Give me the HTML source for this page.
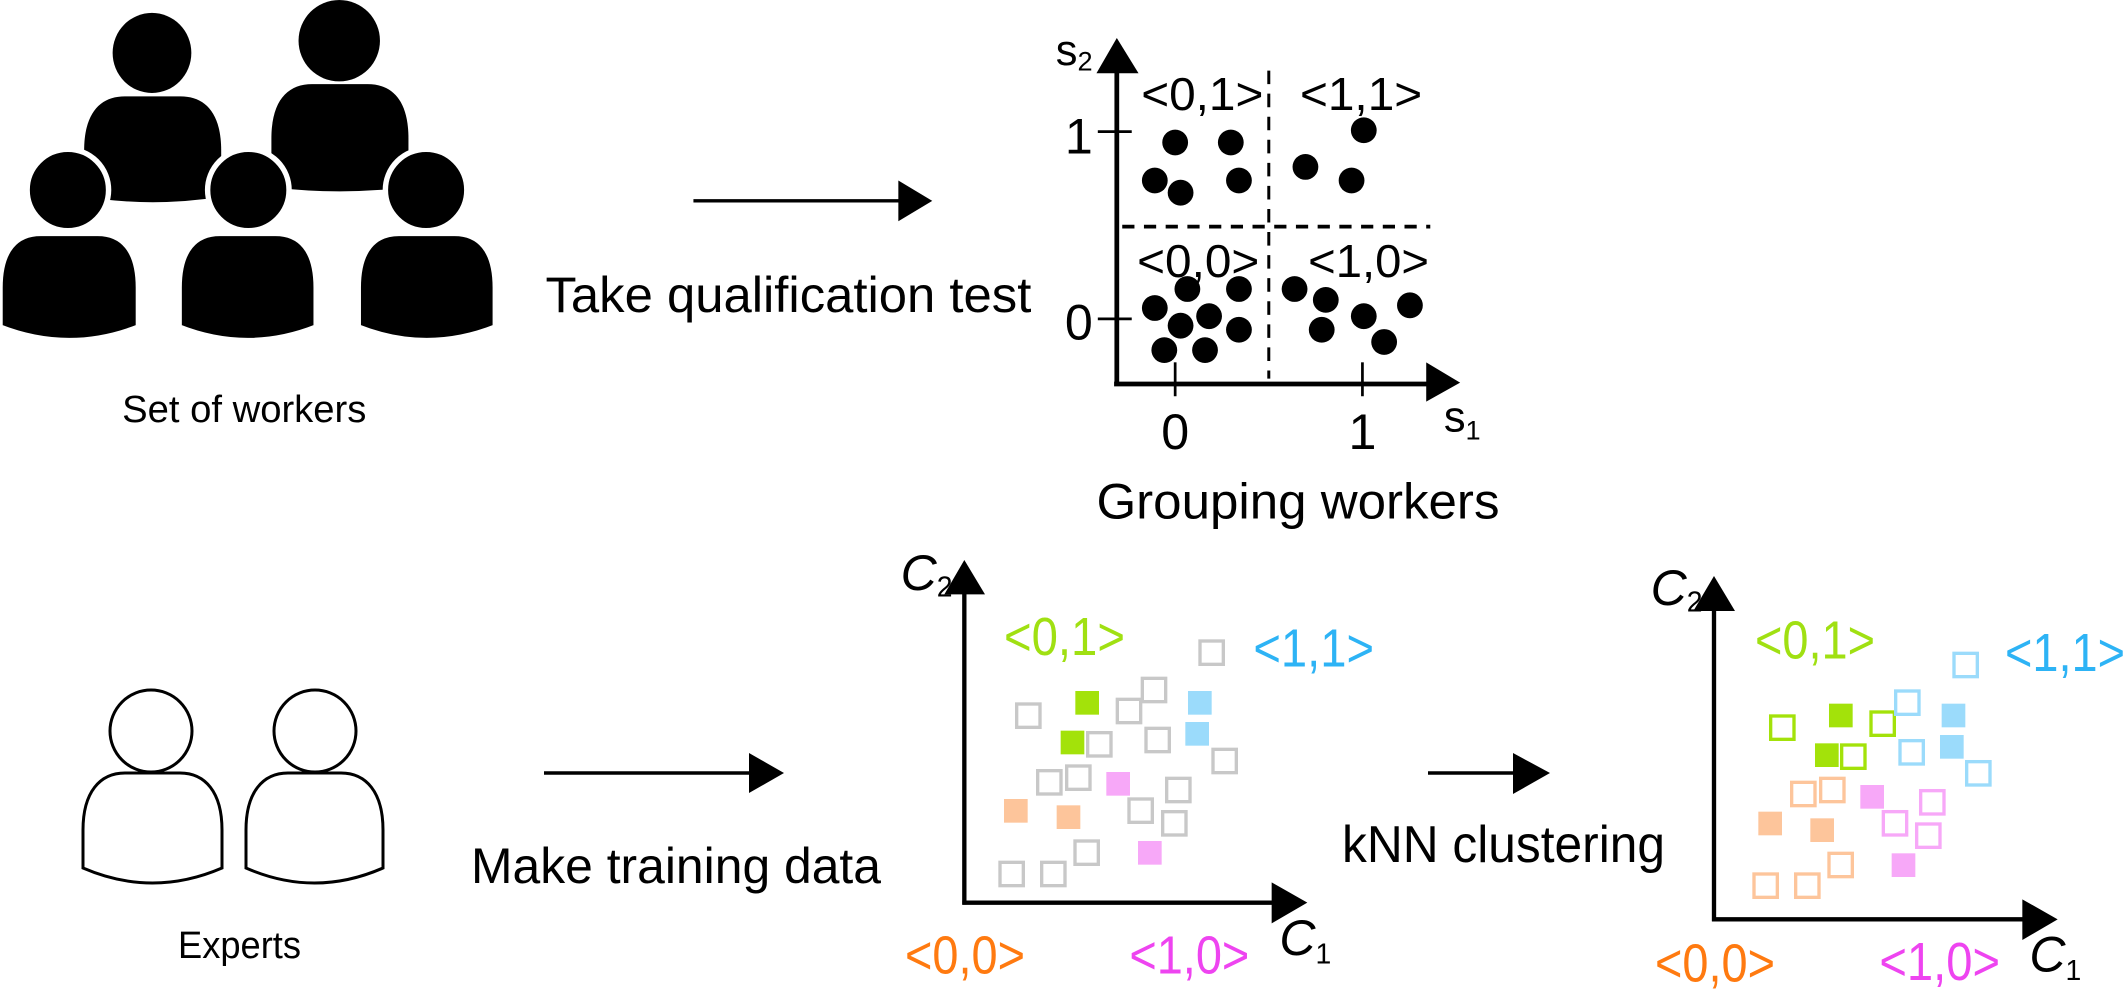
<!DOCTYPE html>
<html><head><meta charset="utf-8"><style>
html,body{margin:0;padding:0;background:#fff;}
svg{display:block;}
text{font-family:"Liberation Sans",sans-serif;}
</style></head><body>
<svg width="2128" height="996" viewBox="0 0 2128 996" xmlns="http://www.w3.org/2000/svg">
<g transform="scale(1.357)">
  <!-- workers -->
  <path d="M62,145 V111 C62,83 74,71 92,71 H133 C151,71 163,83 163,111 V145 Q112.5,153 62,145 Z" fill="#000"/>
  <path d="M200,138 V102 C200,74 212,62 230,62 H271 C289,62 301,74 301,102 V138 Q250.5,144 200,138 Z" fill="#000"/>
  <ellipse cx="112" cy="39" rx="29" ry="29.5" fill="#000"/>
  <ellipse cx="250" cy="30" rx="30" ry="30" fill="#000"/>
  <g fill="#000" stroke="#fff" stroke-width="4">
    <ellipse cx="50" cy="140" rx="30" ry="30"/>
    <ellipse cx="183" cy="140" rx="30" ry="30"/>
    <ellipse cx="314" cy="140" rx="30" ry="30"/>
    <path d="M0,241 V212 C0,184 12,172 30,172 H72 C90,172 102,184 102,212 V241 Q51,261 0,241 Z"/>
    <path d="M132,241 V212 C132,184 144,172 162,172 H203 C221,172 233,184 233,212 V241 Q182.5,261 132,241 Z"/>
    <path d="M264,241 V212 C264,184 276,172 294,172 H335 C353,172 365,184 365,212 V241 Q314.5,261 264,241 Z"/>
  </g>
  <text x="90" y="311" font-size="28" textLength="180" lengthAdjust="spacingAndGlyphs">Set of workers</text>
  <!-- arrow 1 -->
  <line x1="511" y1="148" x2="664" y2="148" stroke="#000" stroke-width="2.5"/>
  <polygon points="662,133 687,148 662,163" fill="#000"/>
  <text x="402" y="230" font-size="37" textLength="358" lengthAdjust="spacingAndGlyphs">Take qualification test</text>
  <!-- top plot -->
  <line x1="823" y1="50" x2="823" y2="284" stroke="#000" stroke-width="3.5"/>
  <polygon points="823,28 808,54 839,54" fill="#000"/>
  <line x1="821" y1="283" x2="1053" y2="283" stroke="#000" stroke-width="3.5"/>
  <polygon points="1076,282 1051,267 1051,296" fill="#000"/>
  <g stroke="#000" stroke-width="2">
    <line x1="809" y1="97" x2="834" y2="97"/>
    <line x1="809" y1="235" x2="834" y2="235"/>
    <line x1="866" y1="267" x2="866" y2="292"/>
    <line x1="1004" y1="267" x2="1004" y2="292"/>
  </g>
  <line x1="935" y1="52" x2="935" y2="279" stroke="#000" stroke-width="2.2" stroke-dasharray="10 7"/>
  <line x1="827" y1="167" x2="1054" y2="167" stroke="#000" stroke-width="2.8" stroke-dasharray="9 7"/>
  <g font-size="34">
    <text x="841" y="81" textLength="90" lengthAdjust="spacingAndGlyphs">&lt;0,1&gt;</text>
    <text x="958" y="81" textLength="90" lengthAdjust="spacingAndGlyphs">&lt;1,1&gt;</text>
    <text x="838" y="204" textLength="90" lengthAdjust="spacingAndGlyphs">&lt;0,0&gt;</text>
    <text x="964" y="204" textLength="89" lengthAdjust="spacingAndGlyphs">&lt;1,0&gt;</text>
  </g>
  <g font-size="37" text-anchor="middle">
    <text x="866" y="331">0</text>
    <text x="1004" y="331">1</text>
    <text x="795" y="113">1</text>
    <text x="795" y="250">0</text>
  </g>
  <text x="778" y="48" font-size="32">s<tspan font-size="20" dy="4">2</tspan></text>
  <text x="1064" y="318" font-size="32">s<tspan font-size="20" dy="6">1</tspan></text>
  <g fill="#000">
    <circle cx="866" cy="105" r="9.5"/><circle cx="907" cy="105" r="9.5"/><circle cx="851" cy="133" r="9.5"/><circle cx="870" cy="142" r="9.5"/><circle cx="913" cy="133" r="9.5"/>
    <circle cx="1005" cy="96" r="9.5"/><circle cx="962" cy="123" r="9.5"/><circle cx="996" cy="133" r="9.5"/>
    <circle cx="875" cy="213" r="9.5"/><circle cx="913" cy="213" r="9.5"/><circle cx="851" cy="227" r="9.5"/><circle cx="870" cy="240" r="9.5"/><circle cx="891" cy="233" r="9.5"/><circle cx="913" cy="243" r="9.5"/><circle cx="858" cy="258" r="9.5"/><circle cx="888" cy="258" r="9.5"/>
    <circle cx="954" cy="213" r="9.5"/><circle cx="977" cy="221" r="9.5"/><circle cx="1039" cy="225" r="9.5"/><circle cx="974" cy="243" r="9.5"/><circle cx="1005" cy="233" r="9.5"/><circle cx="1020" cy="252" r="9.5"/>
  </g>
  <text x="808" y="382" font-size="37" textLength="297" lengthAdjust="spacingAndGlyphs">Grouping workers</text>
</g>

<!-- experts (actual coords) -->
<g fill="#fff" stroke="#000" stroke-width="3">
  <path d="M83,868 V830 C83,792 100,773 125,773 H180 C205,773 222,792 222,830 V868 Q152.5,898 83,868 Z"/>
  <path d="M246,868 V830 C246,792 263,773 288,773 H341 C366,773 383,792 383,830 V868 Q314.5,898 246,868 Z"/>
  <ellipse cx="151" cy="731" rx="41" ry="41"/>
  <ellipse cx="315" cy="731" rx="41" ry="41"/>
</g>
<text x="178" y="958" font-size="38" textLength="123" lengthAdjust="spacingAndGlyphs">Experts</text>
<line x1="544" y1="773" x2="752" y2="773" stroke="#000" stroke-width="3.5"/>
<polygon points="749,753 784,773 749,793" fill="#000"/>
<text x="471" y="883" font-size="50" textLength="410" lengthAdjust="spacingAndGlyphs">Make training data</text>
<line x1="1428" y1="773" x2="1516" y2="773" stroke="#000" stroke-width="3.5"/>
<polygon points="1513,753 1550,773 1513,794" fill="#000"/>
<text x="1342" y="862" font-size="52" textLength="323" lengthAdjust="spacingAndGlyphs">kNN clustering</text>

<!-- plot 2 -->
<g transform="translate(850,540) scale(0.33333)">
  <line x1="343" y1="150" x2="343" y2="1094" stroke="#000" stroke-width="13"/>
  <polygon points="343,60 283,163 405,163" fill="#000"/>
  <line x1="337" y1="1088" x2="1280" y2="1088" stroke="#000" stroke-width="13"/>
  <polygon points="1372,1088 1265,1027 1265,1150" fill="#000"/>
  <g fill="none" stroke="#c8c8c8" stroke-width="10">
    <rect x="500" y="492" width="70" height="70"/><rect x="802" y="478" width="70" height="70"/><rect x="877" y="415" width="70" height="70"/><rect x="1050" y="303" width="70" height="70"/><rect x="713" y="578" width="70" height="70"/><rect x="888" y="565" width="70" height="70"/><rect x="1089" y="628" width="70" height="70"/><rect x="563" y="692" width="70" height="70"/><rect x="650" y="678" width="70" height="70"/><rect x="950" y="715" width="70" height="70"/><rect x="837" y="777" width="70" height="70"/><rect x="938" y="815" width="70" height="70"/><rect x="675" y="903" width="70" height="70"/><rect x="450" y="967" width="70" height="70"/><rect x="575" y="967" width="70" height="70"/>
  </g>
  <g>
    <rect x="676" y="453" width="71" height="71" fill="#a3e20a"/><rect x="632" y="572" width="71" height="71" fill="#a3e20a"/>
    <rect x="1014" y="453" width="71" height="71" fill="#9bdbfb"/><rect x="1006" y="546" width="71" height="71" fill="#9bdbfb"/>
    <rect x="769" y="696" width="71" height="71" fill="#f7a8f8"/><rect x="864" y="903" width="71" height="71" fill="#f7a8f8"/>
    <rect x="462" y="777" width="71" height="71" fill="#fdc59b"/><rect x="620" y="796" width="71" height="71" fill="#fdc59b"/>
  </g>
  <g font-size="160">
    <text x="462" y="345" fill="#a0e012" textLength="363" lengthAdjust="spacingAndGlyphs">&lt;0,1&gt;</text>
    <text x="1210" y="380" fill="#2db3f5" textLength="362" lengthAdjust="spacingAndGlyphs">&lt;1,1&gt;</text>
    <text x="165" y="1300" fill="#ff7a10" textLength="360" lengthAdjust="spacingAndGlyphs">&lt;0,0&gt;</text>
    <text x="838" y="1300" fill="#ee44f0" textLength="360" lengthAdjust="spacingAndGlyphs">&lt;1,0&gt;</text>
  </g>
  <text x="152" y="150" font-size="150" font-style="italic">C<tspan font-size="85" font-style="normal" dy="20">2</tspan></text>
  <text x="1288" y="1245" font-size="150" font-style="italic">C<tspan font-size="85" font-style="normal" dy="25">1</tspan></text>
</g>

<!-- plot 3 -->
<g transform="translate(1620,540) scale(0.33333)">
  <line x1="282" y1="200" x2="282" y2="1144" stroke="#000" stroke-width="13"/>
  <polygon points="282,108 220,213 345,213" fill="#000"/>
  <line x1="276" y1="1138" x2="1220" y2="1138" stroke="#000" stroke-width="13"/>
  <polygon points="1313,1138 1207,1078 1207,1200" fill="#000"/>
  <g fill="none" stroke-width="10">
    <g stroke="#a3e20a"><rect x="452" y="528" width="70" height="70"/><rect x="753" y="516" width="70" height="70"/><rect x="665" y="615" width="70" height="70"/></g>
    <g stroke="#9bdbfb"><rect x="1002" y="340" width="70" height="70"/><rect x="827" y="453" width="70" height="70"/><rect x="840" y="602" width="70" height="70"/><rect x="1040" y="665" width="70" height="70"/></g>
    <g stroke="#fdc59b"><rect x="515" y="727" width="70" height="70"/><rect x="602" y="715" width="70" height="70"/><rect x="627" y="940" width="70" height="70"/><rect x="402" y="1002" width="70" height="70"/><rect x="527" y="1002" width="70" height="70"/></g>
    <g stroke="#f7a8f8"><rect x="902" y="752" width="70" height="70"/><rect x="790" y="815" width="70" height="70"/><rect x="890" y="852" width="70" height="70"/></g>
  </g>
  <g>
    <rect x="627" y="491" width="71" height="71" fill="#a3e20a"/><rect x="585" y="610" width="71" height="71" fill="#a3e20a"/>
    <rect x="965" y="491" width="71" height="71" fill="#9bdbfb"/><rect x="960" y="585" width="71" height="71" fill="#9bdbfb"/>
    <rect x="721" y="735" width="71" height="71" fill="#f7a8f8"/><rect x="815" y="940" width="71" height="71" fill="#f7a8f8"/>
    <rect x="415" y="815" width="71" height="71" fill="#fdc59b"/><rect x="571" y="835" width="71" height="71" fill="#fdc59b"/>
  </g>
  <g font-size="160">
    <text x="405" y="355" fill="#a0e012" textLength="360" lengthAdjust="spacingAndGlyphs">&lt;0,1&gt;</text>
    <text x="1155" y="393" fill="#2db3f5" textLength="360" lengthAdjust="spacingAndGlyphs">&lt;1,1&gt;</text>
    <text x="105" y="1325" fill="#ff7a10" textLength="360" lengthAdjust="spacingAndGlyphs">&lt;0,0&gt;</text>
    <text x="778" y="1320" fill="#ee44f0" textLength="362" lengthAdjust="spacingAndGlyphs">&lt;1,0&gt;</text>
  </g>
  <text x="92" y="195" font-size="150" font-style="italic">C<tspan font-size="85" font-style="normal" dy="20">2</tspan></text>
  <text x="1228" y="1295" font-size="150" font-style="italic">C<tspan font-size="85" font-style="normal" dy="25">1</tspan></text>
</g>
</svg>
</body></html>
